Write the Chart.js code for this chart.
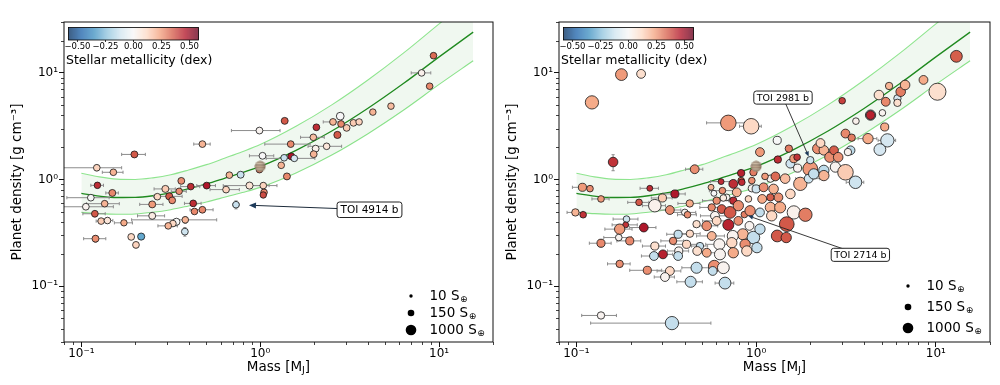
<!DOCTYPE html>
<html><head><meta charset="utf-8">
<script src="https://cdn.jsdelivr.net/npm/chart.js@4.4.1/dist/chart.umd.min.js"></script>
<style>
html,body{margin:0;padding:0;background:#fff;}
#wrap{position:relative;width:1000px;height:385px;overflow:hidden;}
canvas{position:absolute;top:0;}
</style></head><body>
<div id="wrap">
<canvas id="c1" width="500" height="385" style="left:0"></canvas>
<canvas id="c2" width="500" height="385" style="left:500px"></canvas>
</div>
<script>
// ---------------- data ----------------
const tickValues = [0.1, 1, 10];
const tickLabels = ['10⁻¹', '10⁰', '10¹'];
const cbarTicks = [-0.5, -0.25, 0, 0.25, 0.5];
const cbarTickLabels = ['−0.50', '−0.25', '0.00', '0.25', '0.50'];
const cbarTitle = 'Stellar metallicity (dex)';
const legendInsol = [10, 150, 1000];
const legendLabels = ['10', '150', '1000'];
const xTitle = ['Mass [M', 'J', ']'];
const yTitle = 'Planet density [g cm⁻³]';

// model band (mass, centre, upper, lower densities)
const bandMass  = [0.1, 0.126, 0.158, 0.2, 0.251, 0.316, 0.398, 0.501, 0.631, 0.794, 1.0, 1.585, 2.512, 3.981, 6.31, 10.0, 15.5];
const bandMid   = [0.741, 0.700, 0.679, 0.681, 0.705, 0.750, 0.822, 0.912, 1.028, 1.161, 1.327, 1.879, 2.851, 4.634, 7.943, 14.13, 24.1];
const bandUpper = [1.148, 1.059, 1.009, 1.002, 1.038, 1.109, 1.230, 1.380, 1.585, 1.824, 2.128, 3.155, 5.012, 8.531, 15.31, 28.84, 52.1];
const bandLower = [0.492, 0.479, 0.473, 0.476, 0.493, 0.522, 0.566, 0.617, 0.682, 0.755, 0.845, 1.153, 1.698, 2.679, 4.467, 7.798, 13.0];

const jupiterMass = [1.0];
const jupiterDensity = [1.33];

// left panel
const leftMass = [
 0.122, 0.151, 0.198, 0.475, 0.123, 0.149, 0.113, 0.106, 0.135, 0.119,
 0.129, 0.140, 0.173, 0.120, 0.190, 0.216, 0.202, 0.249, 0.249, 0.266,
 0.295, 0.310, 0.322, 0.352, 0.362, 0.409, 0.422, 0.429, 0.475, 0.381,
 0.340, 0.325, 0.306, 0.379, 0.502, 0.644, 0.672, 0.777, 0.871, 1.04,
 1.05, 1.04, 0.732, 0.99, 1.03, 0.99, 1.37, 1.48, 1.49, 1.36,
 1.55, 1.31, 1.41, 1.98, 2.06, 2.04, 1.99, 2.35, 2.55, 2.80,
 2.83, 2.70, 3.04, 3.32, 3.57, 4.26, 5.38, 9.3, 7.98, 8.85];
const leftDensity = [
 1.29, 1.17, 1.72, 2.15, 0.883, 0.749, 0.676, 0.556, 0.594, 0.478,
 0.408, 0.413, 0.393, 0.279, 0.290, 0.292, 0.244, 0.585, 0.457, 0.691,
 0.817, 0.696, 0.638, 0.776, 0.972, 0.859, 0.598, 0.502, 0.521, 0.419,
 0.402, 0.387, 0.368, 0.325, 0.878, 0.805, 1.10, 1.11, 0.878, 0.878,
 0.759, 0.717, 0.581, 1.24, 1.67, 2.88, 3.55, 2.15, 1.65, 1.60,
 1.58, 1.36, 1.07, 2.49, 3.09, 1.95, 1.73, 2.05, 3.47, 3.93,
 3.32, 2.62, 3.05, 3.40, 3.47, 4.29, 4.88, 14.5, 10.0, 7.5];
const leftMassErr = [
 0.046, 0.02, 0.03, 0.05, 0.01, 0.012, 0.03, 0.045, 0.028, 0.017,
 0.008, 0.01, 0.02, 0.017, 0, 0, 0, 0.037, 0.043, 0,
 0.04, 0.056, 0, 0.034, 0, 0.05, 0.045, 0, 0.07, 0.19,
 0, 0, 0.038, 0, 0.06, 0.12, 0, 0, 0.25, 0.2,
 0, 0, 0.03, 0, 0.16, 0.3, 0, 0.42, 0, 0,
 0.47, 0, 0, 0.3, 0, 0, 0, 0.5, 0.3, 0,
 0, 0, 0, 0, 0, 0, 0, 0, 1.0, 0];
const leftDensErr = [
 0.08, 0.05, 0.06, 0.08, 0.05, 0.04, 0.03, 0.03, 0.03, 0.03,
 0.02, 0.02, 0.02, 0.02, 0.015, 0.015, 0.015, 0.03, 0.03, 0.03,
 0.04, 0.04, 0.03, 0.03, 0.04, 0.03, 0.03, 0.02, 0.03, 0.03,
 0.02, 0.02, 0.02, 0.03, 0.04, 0.04, 0.04, 0.04, 0.05, 0.05,
 0.04, 0.04, 0.05, 0, 0.05, 0.08, 0.1, 0.08, 0.05, 0.05,
 0.05, 0.05, 0.05, 0.08, 0.1, 0.06, 0.06, 0.07, 0.1, 0.1,
 0.1, 0.08, 0.1, 0.1, 0.1, 0.15, 0.15, 0.5, 0.4, 0.3];
const leftFeH = [
 0.13, 0.2, 0.36, 0.2, 0.43, 0.28, 0.0, 0.02, 0.2, 0.36,
 0.15, 0.07, 0.22, 0.27, 0.12, -0.3, 0.13, 0.25, 0.05, 0.12,
 0.15, 0.36, 0.28, 0.27, 0.27, 0.43, 0.43, 0.28, 0.28, 0.2,
 0.0, 0.12, 0.2, -0.12, 0.47, 0.13, 0.2, -0.13, 0.08, 0.13,
 0.28, 0.38, -0.13, 0.33, 0.0, 0.02, 0.36, 0.28, 0.47, -0.13,
 -0.1, 0.2, 0.28, 0.18, 0.43, 0.03, 0.2, 0.07, 0.2, 0.0,
 0.28, 0.36, 0.15, 0.15, 0.13, 0.2, 0.18, 0.33, 0.03, 0.28];
const leftInsol = [
 150, 150, 180, 160, 140, 180, 160, 160, 150, 160,
 150, 150, 130, 180, 160, 200, 160, 180, 180, 150,
 190, 200, 160, 140, 170, 150, 160, 150, 160, 150,
 200, 150, 150, 170, 170, 160, 150, 180, 200, 150,
 150, 130, 150, 160, 170, 170, 180, 160, 180, 150,
 150, 150, 180, 150, 160, 170, 170, 150, 160, 280,
 160, 200, 160, 160, 140, 140, 140, 150, 150, 150];

// right panel
const rightMass = [
 0.178, 0.229, 0.122, 0.700, 0.938, 1.31, 0.160, 0.455, 1.05, 1.52,
 1.32, 0.825, 0.825, 0.946, 1.20, 1.28, 1.45, 1.55, 1.70, 1.62,
 1.69, 2.00, 2.00, 2.20, 2.38, 2.28, 2.57, 2.71, 2.86, 2.38,
 2.38, 2.76, 3.14, 3.57, 3.35, 3.24, 3.14, 3.40, 3.01, 3.59,
 4.33, 4.33, 5.04, 4.19, 5.19, 5.37, 4.88, 4.82, 5.26, 5.49,
 6.11, 6.37, 6.11, 6.74, 8.53, 10.2, 13.0, 0.108, 0.119, 0.0987,
 0.109, 0.137, 0.256, 0.353, 0.301, 0.273, 0.331, 0.223, 0.401, 0.415,
 0.427, 0.190, 0.188, 0.174, 0.172, 0.237, 0.198, 0.137, 0.273, 0.638,
 0.649, 0.780, 0.746, 0.832, 0.946, 1.00, 1.10, 1.25, 1.76, 1.96,
 2.09, 1.33, 1.55, 1.20, 1.08, 0.906, 0.746, 0.686, 0.603, 0.566,
 0.643, 0.716, 0.796, 0.86, 0.925, 1.05, 1.20, 1.36, 1.62, 1.88,
 1.22, 0.590, 0.531, 0.603, 0.700, 0.796, 0.918, 0.843, 0.966, 1.05,
 1.48, 1.31, 1.47, 0.566, 0.741, 0.624, 0.732, 0.868, 0.887, 1.01,
 0.487, 0.410, 0.345, 0.368, 0.428, 0.531, 0.629, 0.746, 0.303, 0.270,
 0.174, 0.248, 0.371, 0.368, 0.331, 0.311, 0.466, 0.585, 0.657, 0.573,
 0.432, 0.671, 0.470, 0.137, 0.340, 0.582, 0.657, 0.561, 0.966, 1.12,
 0.466];
const rightDensity = [
 9.64, 9.79, 5.29, 3.40, 3.16, 2.33, 1.46, 1.25, 1.81, 1.95,
 1.54, 1.15, 0.978, 0.978, 1.02, 1.07, 1.02, 1.41, 1.28, 1.57,
 1.62, 1.26, 1.52, 1.95, 1.88, 2.20, 1.62, 1.88, 1.62, 1.22,
 1.09, 1.31, 1.17, 0.943, 1.88, 1.81, 2.70, 2.47, 5.48, 3.53,
 4.02, 4.02, 4.22, 2.42, 3.11, 2.33, 1.91, 6.20, 5.36, 7.54,
 5.77, 6.66, 5.24, 7.70, 8.59, 6.66, 14.3, 0.846, 0.822, 0.492,
 0.468, 0.658, 0.828, 0.733, 0.672, 0.569, 0.518, 0.611, 0.492, 0.468,
 0.597, 0.426, 0.376, 0.343, 0.286, 0.355, 0.266, 0.253, 0.238, 0.957,
 0.787, 0.759, 0.911, 0.943, 0.828, 0.817, 0.846, 0.817, 0.911, 1.02,
 1.13, 0.681, 0.733, 0.681, 0.658, 0.658, 0.634, 0.681, 0.634, 0.548,
 0.529, 0.492, 0.569, 0.47, 0.510, 0.492, 0.548, 0.548, 0.492, 0.468,
 0.457, 0.457, 0.368, 0.410, 0.376, 0.410, 0.368, 0.307, 0.286, 0.343,
 0.382, 0.296, 0.286, 0.296, 0.296, 0.247, 0.256, 0.247, 0.214, 0.230,
 0.238, 0.247, 0.266, 0.307, 0.311, 0.206, 0.199, 0.206, 0.199, 0.192,
 0.162, 0.141, 0.214, 0.192, 0.139, 0.122, 0.149, 0.154, 0.149, 0.139,
 0.110, 0.107, 0.214, 0.0532, 0.0451, 0.743, 0.672, 0.846, 1.17, 1.07,
 0.382];
const rightMassErr = [
 0, 0, 0, 0.17, 0.13, 0, 0, 0.05, 0, 0,
 0, 0, 0, 0, 0, 0, 0, 0, 0, 0,
 0, 0, 0, 0, 0, 0, 0, 0, 0, 0,
 0, 0, 0, 0.4, 0, 0, 0, 0, 0, 0,
 0, 0, 0, 0.5, 0, 0.6, 0, 0, 0, 0,
 0, 0, 0, 0, 0, 0, 0, 0.013, 0, 0.01,
 0, 0.015, 0.03, 0.05, 0.04, 0.04, 0.05, 0.03, 0.06, 0.05,
 0.06, 0.03, 0.03, 0.03, 0.03, 0.04, 0.03, 0.019, 0.04, 0.08,
 0.1, 0, 0, 0, 0, 0, 0, 0, 0, 0.3,
 0, 0, 0, 0, 0, 0, 0, 0, 0.1, 0.08,
 0, 0, 0, 0, 0, 0, 0, 0, 0, 0,
 0, 0.1, 0.08, 0.1, 0, 0, 0, 0, 0, 0,
 0, 0, 0, 0.1, 0, 0.1, 0, 0, 0, 0,
 0.05, 0.06, 0.05, 0.05, 0.06, 0.08, 0, 0, 0.04, 0.04,
 0.025, 0.05, 0.05, 0, 0.05, 0.04, 0.08, 0, 0, 0,
 0.07, 0.08, 0, 0.03, 0.22, 0, 0, 0, 0, 0,
 0];
const rightDensErr = [
 0.6, 0, 0, 0, 0, 0, 0.25, 0.08, 0, 0,
 0, 0, 0, 0, 0, 0, 0, 0, 0, 0,
 0, 0, 0, 0, 0, 0, 0, 0, 0, 0,
 0, 0, 0, 0, 0, 0, 0, 0, 0, 0,
 0, 0, 0, 0, 0, 0, 0, 0, 0, 0,
 0, 0, 0, 0, 0, 0, 0, 0, 0, 0,
 0, 0, 0, 0, 0, 0, 0, 0, 0, 0,
 0, 0, 0, 0, 0, 0, 0, 0.02, 0, 0,
 0, 0, 0, 0, 0, 0, 0, 0, 0, 0,
 0, 0, 0, 0, 0, 0, 0, 0, 0, 0,
 0, 0, 0, 0, 0, 0, 0, 0, 0, 0,
 0, 0, 0, 0, 0, 0, 0, 0, 0, 0,
 0, 0, 0, 0, 0, 0, 0, 0, 0, 0,
 0, 0, 0, 0, 0, 0, 0, 0, 0, 0,
 0.01, 0, 0, 0, 0, 0, 0, 0, 0, 0,
 0, 0, 0, 0, 0, 0, 0, 0, 0, 0,
 0];
const rightFeH = [
 0.25, 0.1, 0.22, 0.25, 0.12, 0.0, 0.42, 0.27, 0.25, 0.3,
 0.43, 0.45, 0.35, 0.27, 0.02, 0.33, 0.18, -0.12, 0.02, 0.25,
 0.42, 0.25, -0.12, 0.27, 0.2, 0.12, 0.27, 0.35, 0.27, -0.15,
 0.2, 0.02, 0.15, -0.12, -0.15, 0.02, 0.28, 0.3, 0.4, 0.03,
 -0.12, 0.45, 0.02, 0.22, 0.22, -0.1, -0.1, 0.1, 0.28, 0.2,
 -0.1, 0.3, 0.1, 0.2, 0.22, 0.1, 0.35, 0.25, 0.27, 0.2,
 0.42, 0.25, 0.43, 0.47, 0.15, 0.03, 0.27, 0.36, 0.02, 0.27,
 0.22, -0.12, 0.42, 0.25, 0.02, 0.47, 0.28, 0.28, 0.1, 0.43,
 0.27, 0.2, 0.43, 0.43, 0.02, -0.12, 0.27, 0.2, 0.2, -0.12,
 -0.14, 0.27, 0.12, 0.35, 0.22, 0.12, 0.43, 0.02, 0.27, 0.28,
 0.36, 0.36, 0.27, 0.3, 0.27, -0.14, 0.2, 0.22, 0.03, 0.3,
 0.12, 0.02, 0.27, 0.12, 0.45, 0.27, 0.02, 0.2, -0.14, -0.14,
 0.36, 0.36, 0.36, 0.2, 0.02, 0.02, 0.12, 0.27, 0.12, -0.14,
 -0.14, 0.12, 0.27, -0.14, 0.12, 0.22, 0.02, 0.22, 0.45, -0.14,
 0.27, 0.27, 0.02, -0.14, 0.12, 0.02, -0.14, 0.27, 0.02, -0.14,
 -0.14, -0.14, 0.1, 0.02, -0.14, 0.0, 0.05, 0.2, 0.3, 0.25,
 0.1];
const rightInsol = [
 1500, 470, 2400, 4500, 4500, 330, 650, 470, 470, 230,
 230, 230, 150, 150, 230, 470, 650, 470, 330, 330,
 150, 3600, 230, 870, 650, 470, 870, 470, 650, 870,
 870, 870, 4500, 1900, 470, 230, 470, 230, 150, 150,
 870, 470, 150, 870, 330, 2400, 1500, 650, 470, 230,
 230, 650, 230, 650, 470, 6500, 1500, 330, 150, 230,
 150, 150, 95, 330, 330, 1900, 470, 150, 150, 150,
 230, 150, 95, 870, 150, 470, 330, 330, 330, 95,
 150, 470, 470, 150, 230, 330, 470, 650, 2400, 470,
 870, 470, 650, 230, 470, 150, 230, 150, 230, 230,
 470, 1500, 870, 150, 870, 470, 870, 1150, 2400, 2400,
 870, 470, 650, 470, 1150, 470, 470, 1150, 1900, 870,
 3600, 1500, 870, 470, 1150, 1150, 870, 870, 870, 870,
 230, 330, 230, 330, 230, 470, 1150, 870, 470, 470,
 230, 330, 330, 470, 470, 470, 1150, 1500, 1500, 470,
 1150, 1500, 470, 230, 2400, 95, 150, 95, 230, 150,
 230];

// annotations
const leftAnnLabels = ['TOI 4914 b'];
const leftAnnMass = [0.732];
const leftAnnDensity = [0.581];
const leftAnnTextMass = [4.08];
const leftAnnTextDensity = [0.521];
const rightAnnLabels = ['TOI 2981 b', 'TOI 2714 b'];
const rightAnnMass = [2.0, 0.86];
const rightAnnDensity = [1.52, 0.47];
const rightAnnTextMass = [1.41, 3.80];
const rightAnnTextDensity = [5.87, 0.197];

// ---------------- helpers ----------------
const FONT = '"DejaVu Sans", sans-serif';
const VMIN = -0.58, VMAX = 0.58;
const RDBU_R = ['#053061','#2166ac','#4393c3','#92c5de','#d1e5f0','#f7f7f7','#fddbc7','#f4a582','#d6604d','#b2182b','#67001f'];
function hexRgb(h){return [parseInt(h.slice(1,3),16),parseInt(h.slice(3,5),16),parseInt(h.slice(5,7),16)];}
const RDBU_RGB = RDBU_R.map(hexRgb);
function cmap(v){
  let t=(v-VMIN)/(VMAX-VMIN); t=Math.max(0,Math.min(1,t));
  const f=t*10, i=Math.min(9,Math.floor(f)), u=f-i;
  const a=RDBU_RGB[i], b=RDBU_RGB[i+1];
  return 'rgb('+a.map((c,k)=>Math.round(c+(b[k]-c)*u)).join(',')+')';
}
function sizeOf(S){return 0.95*Math.pow(S,0.25);}
function labelFor(v){
  const i=tickValues.findIndex(t=>Math.abs(Math.log10(t)-Math.log10(v))<1e-6);
  return i>=0?tickLabels[i]:'';
}
function minorList(min,max){
  const out=[];
  for(let e=-3;e<=2;e++){for(let k=2;k<=9;k++){const v=k*Math.pow(10,e); if(v>=min*0.999&&v<=max*1.001) out.push(v);}}
  return out;
}
function makeJupiter(){
  const c=document.createElement('canvas'); c.width=12; c.height=12;
  const g=c.getContext('2d');
  g.beginPath(); g.arc(6,6,5.4,0,2*Math.PI); g.closePath(); g.save(); g.clip();
  const bands=['#cbb89f','#9c8066','#d9c7ad','#7e6753','#c9ad8e','#9a7a5f','#d4c0a4','#b49a7d','#cdb99c'];
  const h=12/bands.length;
  bands.forEach((col,i)=>{g.fillStyle=col; g.fillRect(0,i*h,12,h+0.6);});
  const grd=g.createRadialGradient(4.5,4.5,0.5,6,6,6.5);
  grd.addColorStop(0,'rgba(255,255,255,0.12)'); grd.addColorStop(1,'rgba(40,30,20,0.45)');
  g.fillStyle=grd; g.fillRect(0,0,12,12); g.restore();
  return c;
}
const jupImg = makeJupiter();

function drawArrowLine(ctx,x0,y0,x1,y1,headLen,headW,lineCol,headCol,lw){
  const ang=Math.atan2(y1-y0,x1-x0);
  const bx=x1-headLen*Math.cos(ang), by=y1-headLen*Math.sin(ang);
  ctx.strokeStyle=lineCol; ctx.lineWidth=lw;
  ctx.beginPath(); ctx.moveTo(x0,y0); ctx.lineTo(bx,by); ctx.stroke();
  ctx.fillStyle=headCol;
  ctx.beginPath(); ctx.moveTo(x1,y1);
  ctx.lineTo(bx+headW*Math.sin(ang), by-headW*Math.cos(ang));
  ctx.lineTo(bx-headW*Math.sin(ang), by+headW*Math.cos(ang));
  ctx.closePath(); ctx.fill();
}
function roundRect(ctx,x,y,w,h,r){
  ctx.beginPath(); ctx.moveTo(x+r,y); ctx.lineTo(x+w-r,y); ctx.quadraticCurveTo(x+w,y,x+w,y+r);
  ctx.lineTo(x+w,y+h-r); ctx.quadraticCurveTo(x+w,y+h,x+w-r,y+h); ctx.lineTo(x+r,y+h);
  ctx.quadraticCurveTo(x,y+h,x,y+h-r); ctx.lineTo(x,y+r); ctx.quadraticCurveTo(x,y,x+r,y); ctx.closePath();
}

function makeDeco(P){
  return {
    id:'deco',
    beforeDatasetDraw(chart,args){
      if(args.index!==1) return;
      const {ctx,chartArea:ca,scales:{x,y}}=chart;
      ctx.save(); ctx.beginPath(); ctx.rect(ca.left,ca.top,ca.right-ca.left,ca.bottom-ca.top); ctx.clip();
      ctx.strokeStyle='#8c8c8c'; ctx.lineWidth=1;
      P.mass.forEach((m,i)=>{
        const d=P.dens[i], px=x.getPixelForValue(m), py=y.getPixelForValue(d);
        const me=P.mErr[i], de=P.dErr[i];
        ctx.beginPath();
        if(me>0){
          const lo=(m-me>0)?x.getPixelForValue(m-me):ca.left-5, hi=x.getPixelForValue(m+me);
          ctx.moveTo(lo,py); ctx.lineTo(hi,py);
          ctx.moveTo(lo,py-1.6); ctx.lineTo(lo,py+1.6); ctx.moveTo(hi,py-1.6); ctx.lineTo(hi,py+1.6);
        }
        if(de>0){
          const lo=(d-de>0)?y.getPixelForValue(d-de):ca.bottom+5, hi=y.getPixelForValue(d+de);
          ctx.moveTo(px,lo); ctx.lineTo(px,hi);
          ctx.moveTo(px-1.6,lo); ctx.lineTo(px+1.6,lo); ctx.moveTo(px-1.6,hi); ctx.lineTo(px+1.6,hi);
        }
        ctx.stroke();
      });
      ctx.restore();
    },
    afterDraw(chart){
      const {ctx,chartArea:ca,scales:{x,y}}=chart;
      ctx.save();
      // frame
      ctx.strokeStyle='#111'; ctx.lineWidth=1;
      ctx.strokeRect(ca.left,ca.top,ca.right-ca.left,ca.bottom-ca.top);
      // minor ticks
      ctx.lineWidth=0.8; ctx.strokeStyle='#111';
      ctx.beginPath();
      minorList(x.min,x.max).forEach(v=>{const px=Math.round(x.getPixelForValue(v))+0.5; ctx.moveTo(px,ca.bottom); ctx.lineTo(px,ca.bottom+3);});
      minorList(y.min,y.max).forEach(v=>{const py=Math.round(y.getPixelForValue(v))+0.5; ctx.moveTo(ca.left,py); ctx.lineTo(ca.left-3,py);});
      ctx.stroke();
      // colorbar
      const cx0=ca.left+4.5, cy0=27.5, cw=130, ch=12.5;
      for(let i=0;i<cw;i++){ctx.fillStyle=cmap(VMIN+(VMAX-VMIN)*(i+0.5)/cw); ctx.fillRect(cx0+i,cy0,1.05,ch);}
      ctx.strokeStyle='#000'; ctx.lineWidth=0.8; ctx.strokeRect(cx0,cy0,cw,ch);
      ctx.fillStyle='#000'; ctx.font='8.5px '+FONT; ctx.textAlign='center'; ctx.textBaseline='top';
      cbarTicks.forEach((t,i)=>{const px=cx0+(t-VMIN)/(VMAX-VMIN)*cw;
        ctx.beginPath(); ctx.moveTo(px,cy0+ch); ctx.lineTo(px,cy0+ch+2); ctx.stroke();
        ctx.fillText(cbarTickLabels[i],px,cy0+ch+2.5);});
      ctx.font='12.5px '+FONT; ctx.textAlign='left'; ctx.textBaseline='middle';
      ctx.fillText(cbarTitle,ca.left+2,61);
      // size legend
      const dotX=ca.right-82, txtX=ca.right-63.5;
      P.legendY.forEach((ly,i)=>{
        ctx.fillStyle='#000'; ctx.beginPath(); ctx.arc(dotX,ly,sizeOf(legendInsol[i]),0,2*Math.PI); ctx.fill();
        ctx.font='13.5px '+FONT; ctx.textAlign='left'; ctx.textBaseline='middle';
        const s=legendLabels[i]+' S'; ctx.fillText(s,txtX,ly);
        const w=ctx.measureText(s).width;
        ctx.font='9px '+FONT; ctx.fillText('⊕',txtX+w+0.5,ly+4);
      });
      // annotations
      P.ann.labels.forEach((lab,i)=>{
        const tx=x.getPixelForValue(P.ann.tm[i]), ty=y.getPixelForValue(P.ann.td[i]);
        const px=x.getPixelForValue(P.ann.pm[i]), py=y.getPixelForValue(P.ann.pd[i]);
        const ang=Math.atan2(py-ty,px-tx);
        const ex=px-P.ann.shrink*Math.cos(ang), ey=py-P.ann.shrink*Math.sin(ang);
        drawArrowLine(ctx,tx,ty,ex,ey,P.ann.headLen,P.ann.headW,P.ann.lineCol,P.ann.headCol,P.ann.lw);
        ctx.font=P.ann.fontSize+'px '+FONT;
        const w=ctx.measureText(lab).width, bw=w+2*P.ann.padX, bh=P.ann.fontSize+P.ann.padY*2;
        roundRect(ctx,tx-bw/2,ty-bh/2,bw,bh,2.5);
        ctx.fillStyle='#fff'; ctx.fill(); ctx.strokeStyle='#222'; ctx.lineWidth=1; ctx.stroke();
        ctx.fillStyle='#000'; ctx.textAlign='center'; ctx.textBaseline='middle';
        ctx.fillText(lab,tx,ty+0.5);
      });
      // axis titles
      ctx.fillStyle='#000'; ctx.textBaseline='middle';
      ctx.font='13.5px '+FONT;
      const w1=ctx.measureText(xTitle[0]).width, w3=ctx.measureText(xTitle[2]).width;
      ctx.font='9.5px '+FONT; const w2=ctx.measureText(xTitle[1]).width;
      const mid=(ca.left+ca.right)/2, start=mid-(w1+w2+w3)/2, ty0=367;
      ctx.textAlign='left';
      ctx.font='13.5px '+FONT; ctx.fillText(xTitle[0],start,ty0);
      ctx.font='9.5px '+FONT; ctx.fillText(xTitle[1],start+w1,ty0+4);
      ctx.font='13.5px '+FONT; ctx.fillText(xTitle[2],start+w1+w2,ty0);
      ctx.save(); ctx.translate(ca.left-46.5,(ca.top+ca.bottom)/2); ctx.rotate(-Math.PI/2);
      ctx.textAlign='center'; ctx.font='13.5px '+FONT; ctx.fillText(yTitle,0,0); ctx.restore();
      ctx.restore();
    }
  };
}

function buildChart(id,P){
  const line=(arr)=>bandMass.map((m,i)=>({x:m,y:arr[i]}));
  return new Chart(document.getElementById(id),{
    type:'scatter',
    data:{datasets:[
      {data:jupiterMass.map((m,i)=>({x:m,y:jupiterDensity[i]})), pointStyle:jupImg, pointRadius:6, order:0},
      {data:P.mass.map((m,i)=>({x:m,y:P.dens[i]})), pointBackgroundColor:P.feh.map(cmap),
        pointBorderColor:'#151515', pointBorderWidth:0.8, pointRadius:P.insol.map(sizeOf), order:1},
      {data:line(bandMid), showLine:true, pointRadius:0, borderColor:'#1f8a1f', borderWidth:1.3,
        cubicInterpolationMode:'monotone', fill:false, order:2},
      {data:line(bandUpper), showLine:true, pointRadius:0, borderColor:'#8fe58f', borderWidth:1.1,
        cubicInterpolationMode:'monotone', fill:'+1', backgroundColor:'rgba(0,128,0,0.06)', order:3},
      {data:line(bandLower), showLine:true, pointRadius:0, borderColor:'#8fe58f', borderWidth:1.1,
        cubicInterpolationMode:'monotone', fill:false, order:4}
    ]},
    options:{
      responsive:false, animation:false, events:[],
      layout:{padding:{top:22,right:P.padRight,left:0,bottom:0}},
      plugins:{legend:{display:false},tooltip:{enabled:false}},
      scales:{
        x:{type:'logarithmic',min:0.08,max:20,
          afterBuildTicks:s=>{s.ticks=tickValues.map(v=>({value:v}));},
          afterFit:s=>{s.height=43;},
          ticks:{callback:v=>labelFor(v),color:'#000',font:{family:FONT,size:12},padding:0,maxRotation:0,autoSkip:false},
          grid:{display:true,drawOnChartArea:false,drawTicks:true,tickLength:5,color:'#111',tickColor:'#111',tickWidth:1},
          border:{display:false}},
        y:{type:'logarithmic',min:0.03,max:30,
          afterBuildTicks:s=>{s.ticks=tickValues.map(v=>({value:v}));},
          afterFit:s=>{s.width=P.yWidth;},
          ticks:{callback:v=>labelFor(v),color:'#000',font:{family:FONT,size:12},padding:1,autoSkip:false},
          grid:{display:true,drawOnChartArea:false,drawTicks:true,tickLength:5,color:'#111',tickColor:'#111',tickWidth:1},
          border:{display:false}}
      }
    },
    plugins:[makeDeco(P)]
  });
}

buildChart('c1',{mass:leftMass,dens:leftDensity,mErr:leftMassErr,dErr:leftDensErr,feh:leftFeH,insol:leftInsol,
  padRight:6,yWidth:64,legendY:[296,313,330],
  ann:{labels:leftAnnLabels,pm:leftAnnMass,pd:leftAnnDensity,tm:leftAnnTextMass,td:leftAnnTextDensity,
    shrink:13,headLen:7,headW:3,lineCol:'#1d2b3a',headCol:'#1d3a5a',lw:1,fontSize:10.5,padX:3.5,padY:2.5}});
buildChart('c2',{mass:rightMass,dens:rightDensity,mErr:rightMassErr,dErr:rightDensErr,feh:rightFeH,insol:rightInsol,
  padRight:10,yWidth:59,legendY:[286,307,328],
  ann:{labels:rightAnnLabels,pm:rightAnnMass,pd:rightAnnDensity,tm:rightAnnTextMass,td:rightAnnTextDensity,
    shrink:4,headLen:5,headW:2.2,lineCol:'#222',headCol:'#1d3a5a',lw:0.9,fontSize:9.5,padX:3,padY:1.8}});
</script>
</body></html>
